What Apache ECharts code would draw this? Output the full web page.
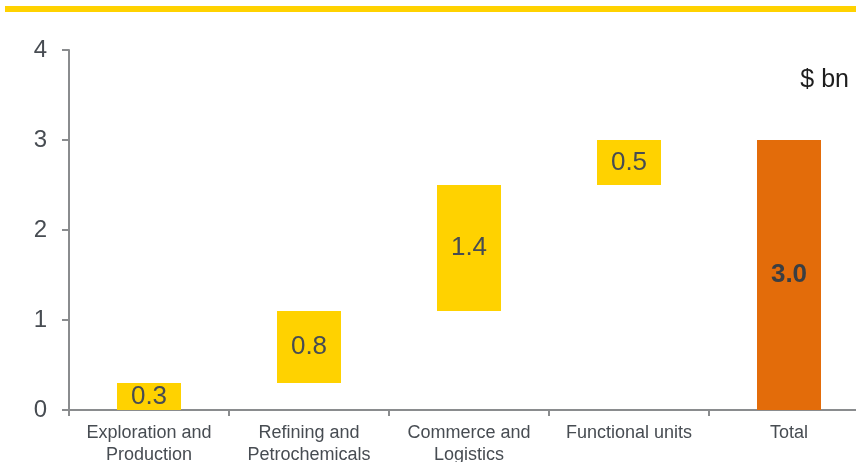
<!DOCTYPE html>
<html>
<head>
<meta charset="utf-8">
<script src="https://cdn.jsdelivr.net/npm/echarts@6/dist/echarts.min.js"></script>
<style>
  html, body { margin: 0; padding: 0; background: #ffffff; }
  #chart { width: 856px; height: 462px; }
</style>
</head>
<body>
<div id="chart"></div>
<script>
// Contribution by segment, $ bn
const categories = ['Exploration and\nProduction', 'Refining and\nPetrochemicals', 'Commerce and\nLogistics', 'Functional units', 'Total'];
const increments = [0.3, 0.8, 1.4, 0.5];
const total = 3.0;
const yTicks = [0, 1, 2, 3, 4];

const YELLOW = '#FFD200';
const ORANGE = '#E36C0A';
const TEXT = '#474c52';
const AXIS = '#8a8c8e';

// Invisible base for each floating step, then the visible step on top
const baseData = [];
let running = 0;
increments.forEach(v => { baseData.push(running); running += v; });
baseData.push(0);

const stepData = increments.map(v => ({ value: v, itemStyle: { color: YELLOW } }));
stepData.push({
  value: total,
  itemStyle: { color: ORANGE },
  label: { fontWeight: 'bold', color: '#3a3e43' }
});

const chart = echarts.init(document.getElementById('chart'), null, { renderer: 'canvas' });
chart.setOption({
  animation: false,
  backgroundColor: '#ffffff',
  textStyle: { fontFamily: 'Liberation Sans, Arial, sans-serif' },
  grid: { left: 69, top: 50, width: 800, height: 360, containLabel: false, outerBoundsMode: 'none' },
  graphic: [
    { type: 'rect', shape: { x: 5, y: 6, width: 851, height: 6 }, style: { fill: YELLOW } },
    { type: 'text', right: 7, top: 68, style: { text: '$ bn', fill: '#1e1e1e', font: '25px Liberation Sans, Arial, sans-serif' } }
  ],
  xAxis: {
    type: 'category',
    data: categories,
    axisLine: { show: true, lineStyle: { color: AXIS, width: 2 } },
    axisTick: { show: true, alignWithLabel: false, length: 6, lineStyle: { color: AXIS, width: 2 } },
    axisLabel: { color: TEXT, fontSize: 18, lineHeight: 22, margin: 12, interval: 0 }
  },
  yAxis: {
    type: 'value',
    min: yTicks[0],
    max: yTicks[yTicks.length - 1],
    interval: 1,
    splitLine: { show: false },
    axisLine: { show: true, lineStyle: { color: AXIS, width: 2 } },
    axisTick: { show: true, length: 7, lineStyle: { color: AXIS, width: 2 } },
    axisLabel: { color: TEXT, fontSize: 24, margin: 22 }
  },
  series: [
    {
      type: 'bar',
      stack: 'w',
      data: baseData,
      barWidth: '40%',
      itemStyle: { color: 'transparent' },
      emphasis: { disabled: true },
      silent: true
    },
    {
      type: 'bar',
      stack: 'w',
      data: stepData,
      barWidth: '40%',
      label: {
        show: true,
        position: 'inside',
        color: TEXT,
        fontSize: 26,
        formatter: p => p.value.toFixed(1)
      }
    }
  ]
});
</script>
</body>
</html>
